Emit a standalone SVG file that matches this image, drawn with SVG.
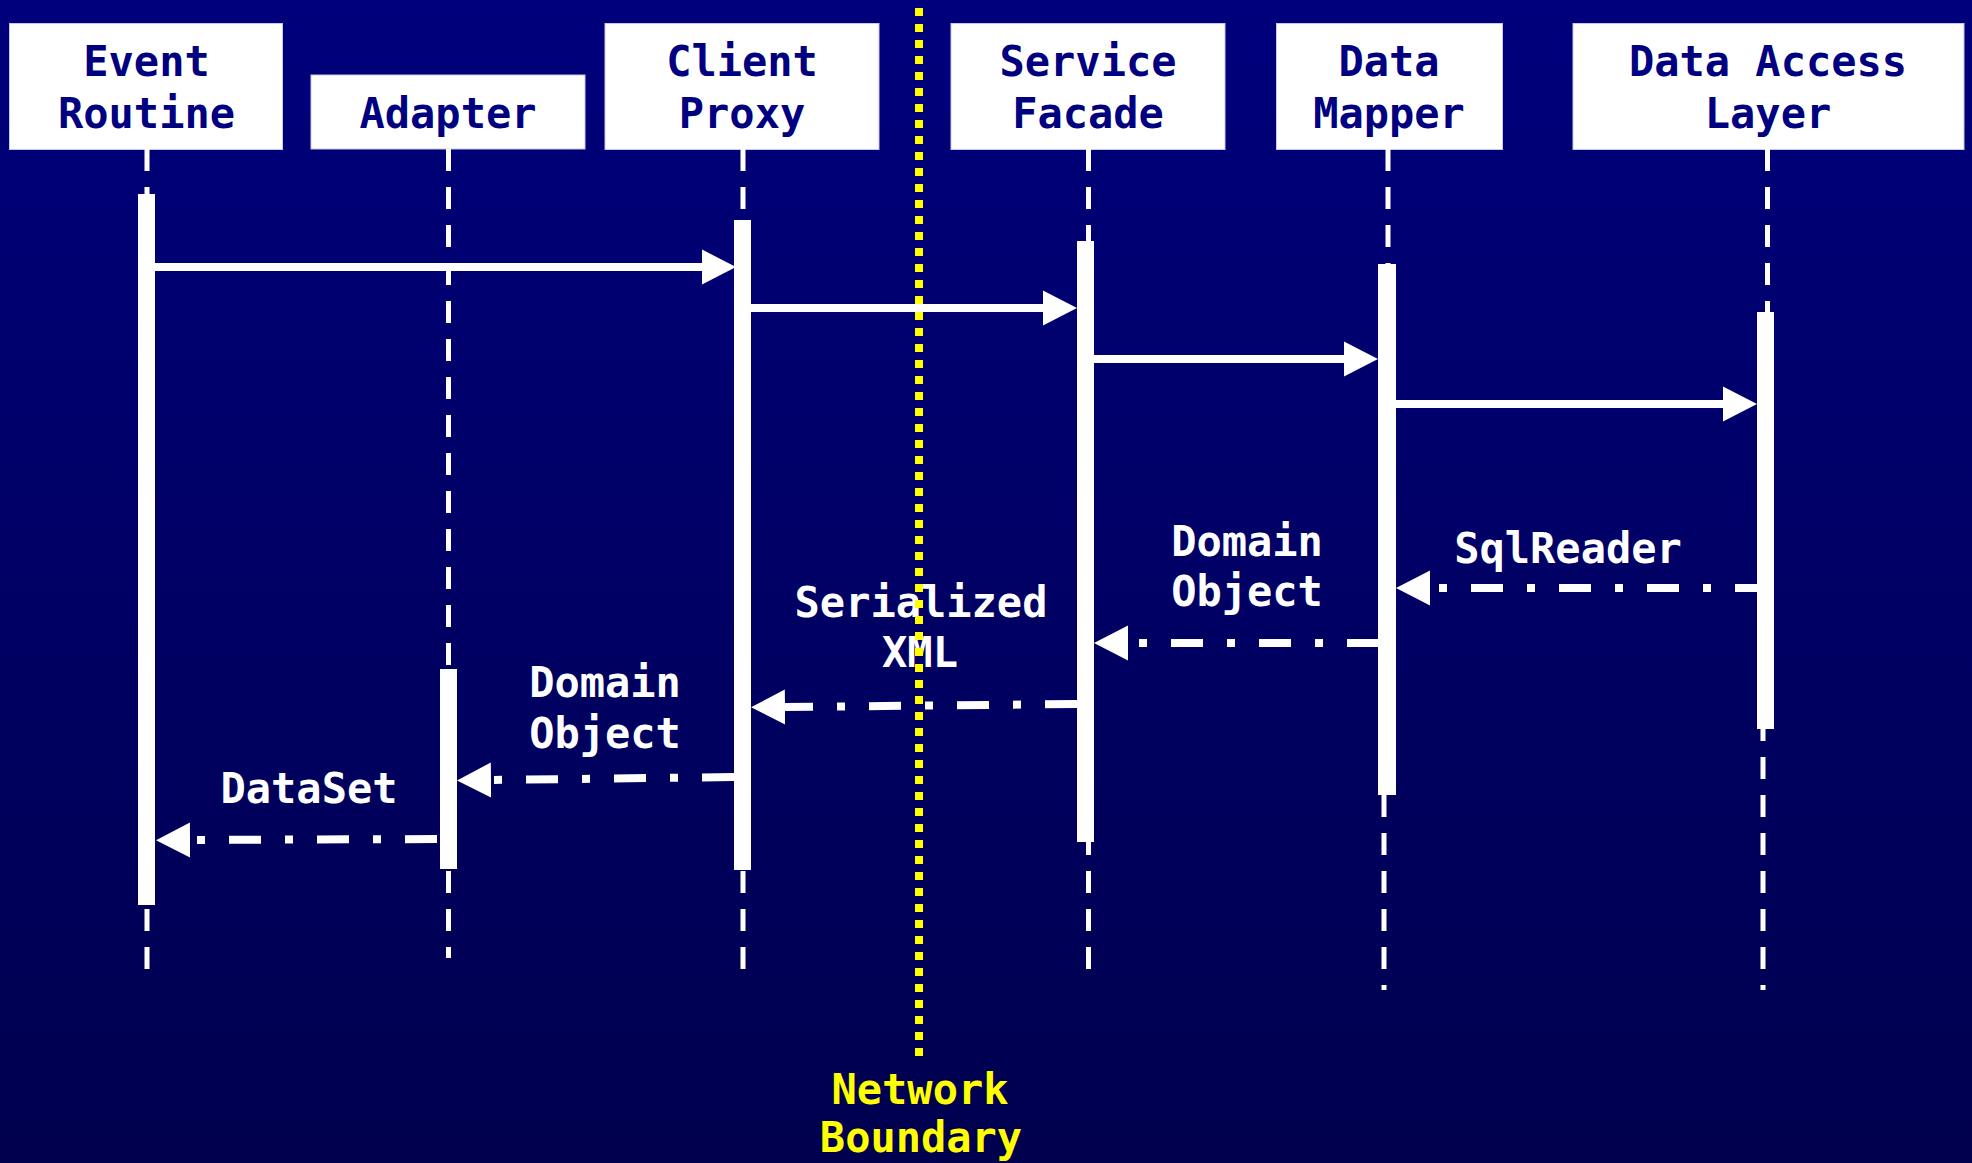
<svg xmlns="http://www.w3.org/2000/svg" width="1972" height="1163" viewBox="0 0 1972 1163">
<defs>
<linearGradient id="bg" x1="0" y1="0" x2="0" y2="1">
<stop offset="0" stop-color="#00007C"/>
<stop offset="1" stop-color="#00004E"/>
</linearGradient>
<marker id="ah" markerUnits="userSpaceOnUse" viewBox="0 -18 35 36" refX="0" refY="0" markerWidth="35" markerHeight="36" orient="auto">
<path d="M0,-17.5 L34,0 L0,17.5 Z" fill="#ffffff"/>
</marker>
<style>
.box{fill:#ffffff;stroke:#c8c8ec;stroke-width:1}
.bt{font-family:"DejaVu Sans Mono","Liberation Mono",monospace;font-weight:bold;font-size:42px;fill:#000080;text-anchor:middle}
.lt{font-family:"DejaVu Sans Mono","Liberation Mono",monospace;font-weight:bold;font-size:42px;fill:#ffffff;text-anchor:middle}
.nt{font-family:"DejaVu Sans Mono","Liberation Mono",monospace;font-weight:bold;font-size:42px;fill:#ffff00;text-anchor:middle}
.life{stroke:#ffffff;stroke-width:5;stroke-dasharray:22 16;fill:none}
.bar{fill:#ffffff}
.sync{stroke:#ffffff;stroke-width:8;fill:none;marker-end:url(#ah)}
.ret{stroke:#ffffff;stroke-width:8;fill:none;stroke-dasharray:32 24 8 24;marker-end:url(#ah)}
</style>
</defs>
<rect x="0" y="0" width="1972" height="1163" fill="url(#bg)"/>

<g id="event-routine">
<rect class="box" x="9.5" y="23.5" width="273" height="126"/>
<text class="bt" x="146.5" y="76">Event</text>
<text class="bt" x="146.5" y="128">Routine</text>
<line class="life" x1="147" y1="149" x2="147" y2="969"/>
<rect class="bar" x="138" y="194" width="17" height="711"/>
</g>

<g id="adapter">
<rect class="box" x="311" y="75" width="274" height="74"/>
<text class="bt" x="448" y="128">Adapter</text>
<line class="life" x1="448.5" y1="149" x2="448.5" y2="958"/>
<rect class="bar" x="440" y="669" width="17" height="200"/>
</g>

<g id="client-proxy">
<rect class="box" x="605" y="23.5" width="274" height="126"/>
<text class="bt" x="742" y="76">Client</text>
<text class="bt" x="742" y="128">Proxy</text>
<line class="life" x1="743" y1="149" x2="743" y2="969"/>
<rect class="bar" x="734" y="220" width="17" height="650"/>
</g>

<g id="service-facade">
<rect class="box" x="951" y="23.5" width="274" height="126"/>
<text class="bt" x="1088" y="76">Service</text>
<text class="bt" x="1088" y="128">Facade</text>
<line class="life" x1="1088.5" y1="149" x2="1088.5" y2="969"/>
<rect class="bar" x="1077" y="241" width="17" height="601"/>
</g>

<g id="data-mapper">
<rect class="box" x="1276.5" y="23.5" width="226" height="126"/>
<text class="bt" x="1389" y="76">Data</text>
<text class="bt" x="1389" y="128">Mapper</text>
<line class="life" x1="1388" y1="149" x2="1388" y2="264"/>
<line class="life" x1="1384" y1="795" x2="1384" y2="990"/>
<rect class="bar" x="1378" y="264" width="18" height="531"/>
</g>

<g id="data-access-layer">
<rect class="box" x="1573" y="23.5" width="391" height="126"/>
<text class="bt" x="1768" y="76">Data Access</text>
<text class="bt" x="1768" y="128">Layer</text>
<line class="life" x1="1767.5" y1="149" x2="1767.5" y2="312"/>
<line class="life" x1="1763" y1="729" x2="1763" y2="990" style="stroke-dashoffset:10"/>
<rect class="bar" x="1757" y="312" width="17" height="417"/>
</g>

<g id="labels">
<text class="lt" x="1568" y="563">SqlReader</text>
<text class="lt" x="1247" y="556">Domain</text>
<text class="lt" x="1247" y="606">Object</text>
<text class="lt" x="921" y="617">Serialized</text>
<text class="lt" x="920" y="667">XML</text>
<text class="lt" x="605" y="697">Domain</text>
<text class="lt" x="605" y="748">Object</text>
<text class="lt" x="309" y="803">DataSet</text>
</g>

<g id="network-boundary">
<line x1="919" y1="8" x2="919" y2="1056" stroke="#ffff00" stroke-width="8" stroke-dasharray="8 8"/>
<text class="nt" x="920" y="1104">Network</text>
<text class="nt" x="921" y="1152">Boundary</text>
</g>

<g id="connectors">
<line class="sync" x1="150" y1="267" x2="702" y2="267"/>
<line class="sync" x1="746" y1="308" x2="1043" y2="308"/>
<line class="sync" x1="1089" y1="359" x2="1344" y2="359"/>
<line class="sync" x1="1390" y1="404" x2="1723" y2="404"/>
<line class="ret" x1="1767" y1="588" x2="1430" y2="588"/>
<line class="ret" x1="1379" y1="643" x2="1128" y2="643"/>
<line class="ret" x1="1077" y1="704" x2="785" y2="707"/>
<line class="ret" x1="734" y1="777" x2="491" y2="780"/>
<line class="ret" x1="437" y1="839" x2="190" y2="840"/>
</g>
</svg>
